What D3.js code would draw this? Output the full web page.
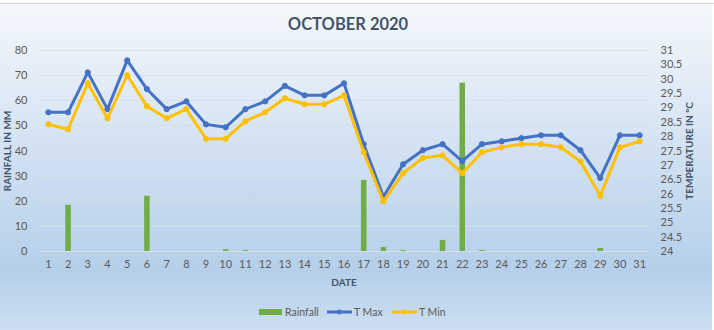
<!DOCTYPE html>
<html>
<head>
<meta charset="utf-8">
<script src="https://cdn.jsdelivr.net/npm/d3@7"></script>
<style>
  body { margin: 0; background: #fff; }
  svg text { font-family: Lato, "Noto Sans", sans-serif; }
</style>
</head>
<body>
<div id="chart"></div>
<script>
// chart data
var days = d3.range(1, 32);
var rainfall = [0, 18.4, 0, 0, 0, 22, 0, 0, 0, 0.7, 0.4, 0, 0, 0, 0, 0,
                28.3, 1.6, 0.4, 0, 4.4, 67, 0.4, 0, 0, 0, 0, 0, 1.2, 0, 0];
var tMax = [28.83, 28.83, 30.22, 28.94, 30.64, 29.64, 28.94, 29.21, 28.41, 28.31,
            28.94, 29.21, 29.75, 29.42, 29.42, 29.84, 27.72, 25.89, 27.02, 27.51,
            27.72, 27.13, 27.72, 27.82, 27.93, 28.03, 28.03, 27.51, 26.54, 28.03, 28.03];
var tMin = [28.41, 28.24, 29.84, 28.62, 30.12, 29.04, 28.62, 28.94, 27.91, 27.91,
            28.52, 28.83, 29.32, 29.11, 29.11, 29.42, 27.44, 25.73, 26.71, 27.24,
            27.33, 26.71, 27.44, 27.61, 27.72, 27.72, 27.61, 27.12, 25.92, 27.61, 27.82];
var rainTicks = d3.range(0, 81, 10);
var tempTicks = d3.range(24, 31.01, 0.5);

var W = 714, H = 330;
var plot = {left: 38.5, right: 649.5, top: 50, bottom: 251};

var svg = d3.select("#chart").append("svg")
    .attr("width", W)
    .attr("height", H);

// background gradient like the excel chart area
var grad = svg.append("defs").append("linearGradient")
    .attr("id", "bg").attr("x1", 0).attr("y1", 0).attr("x2", 0).attr("y2", 1);
grad.append("stop").attr("offset", "0%").attr("stop-color", "#f5f8fc");
grad.append("stop").attr("offset", "82%").attr("stop-color", "#b5cfea");
grad.append("stop").attr("offset", "100%").attr("stop-color", "#cddff1");

svg.append("rect").attr("width", W).attr("height", H).attr("fill", "#fff");
svg.append("rect")
    .attr("x", 0).attr("y", 4)
    .attr("width", 712).attr("height", H - 4)
    .attr("fill", "url(#bg)");
svg.append("line")
    .attr("x1", 0).attr("x2", W).attr("y1", 3.5).attr("y2", 3.5)
    .attr("stroke", "#d4d4d4");

//scales
var x = d3.scaleBand().domain(days).range([plot.left, plot.right]).paddingInner(0.72).paddingOuter(0.36);
var cx = function(d) { return x(d) + x.bandwidth() / 2; };
var yRain = d3.scaleLinear().domain([0, 80]).range([plot.bottom, plot.top]);
var yTemp = d3.scaleLinear().domain([24, 31]).range([plot.bottom, plot.top]);

//gridlines
svg.append("g")
    .selectAll("line")
    .data(rainTicks)
    .join("line")
    .attr("x1", plot.left).attr("x2", plot.right)
    .attr("y1", d => Math.round(yRain(d)) + 0.5)
    .attr("y2", d => Math.round(yRain(d)) + 0.5)
    .attr("stroke", "#d7dfe9")
    .attr("stroke-width", 1);

//axes
var leftAxis = svg.append("g")
    .attr("transform", "translate(" + plot.left + ",0)")
    .call(d3.axisLeft(yRain).tickValues(rainTicks).tickSize(0).tickPadding(11));
var rightAxis = svg.append("g")
    .attr("transform", "translate(" + plot.right + ",0)")
    .call(d3.axisRight(yTemp).tickValues(tempTicks).tickSize(0).tickPadding(11)
        .tickFormat(d3.format("~g")));
var bottomAxis = svg.append("g")
    .attr("transform", "translate(0," + plot.bottom + ")")
    .call(d3.axisBottom(x).tickSize(0).tickPadding(9));

[leftAxis, rightAxis, bottomAxis].forEach(function(a) {
    a.select(".domain").remove();
    a.selectAll("text")
        .attr("fill", "#595959")
        .style("font-size", "11px");
});

//rainfall bars
svg.append("g")
    .selectAll("rect")
    .data(days)
    .join("rect")
    .attr("x", d => x(d))
    .attr("width", x.bandwidth())
    .attr("y", (d, i) => yRain(rainfall[i]))
    .attr("height", (d, i) => plot.bottom - yRain(rainfall[i]))
    .attr("fill", "#70ad47");

//temperature lines
function drawLine(values, color) {
    var line = d3.line()
        .x(d => cx(d))
        .y((d, i) => yTemp(values[i]));
    svg.append("path")
        .datum(days)
        .attr("d", line)
        .attr("fill", "none")
        .attr("stroke", color)
        .attr("stroke-width", 3)
        .attr("stroke-linejoin", "round");
    svg.append("g")
        .selectAll("circle")
        .data(days)
        .join("circle")
        .attr("cx", d => cx(d))
        .attr("cy", (d, i) => yTemp(values[i]))
        .attr("r", 2.6)
        .attr("fill", color)
        .attr("stroke", color);
}
drawLine(tMax, "#4472c4");
drawLine(tMin, "#ffc000");

//title and axis titles
svg.append("text")
    .attr("x", 348).attr("y", 30)
    .attr("text-anchor", "middle")
    .attr("fill", "#44546a")
    .style("font-size", "16.5px")
    .style("font-weight", "bold")
    .text("OCTOBER 2020");

svg.append("text")
    .attr("transform", "translate(11,151) rotate(-90)")
    .attr("text-anchor", "middle")
    .attr("fill", "#44546a")
    .style("font-size", "10px")
    .style("font-weight", "bold")
    .text("RAINFALL IN MM");

svg.append("text")
    .attr("transform", "translate(693,151) rotate(-90)")
    .attr("text-anchor", "middle")
    .attr("fill", "#44546a")
    .style("font-size", "10px")
    .style("font-weight", "bold")
    .text("TEMPERATURE IN ºC");

svg.append("text")
    .attr("x", 344).attr("y", 286)
    .attr("text-anchor", "middle")
    .attr("fill", "#44546a")
    .style("font-size", "10px")
    .style("font-weight", "bold")
    .text("DATE");

//legend
var legend = svg.append("g").attr("transform", "translate(0,312)");
legend.append("rect")
    .attr("x", 259).attr("y", -3).attr("width", 23).attr("height", 6)
    .attr("fill", "#70ad47");
legend.append("text").attr("x", 285).attr("y", 4).text("Rainfall");

[{x: 327, color: "#4472c4", label: "T Max"}, {x: 392, color: "#ffc000", label: "T Min"}]
    .forEach(function(l) {
        legend.append("line")
            .attr("x1", l.x).attr("x2", l.x + 25)
            .attr("y1", 0).attr("y2", 0)
            .attr("stroke", l.color).attr("stroke-width", 3);
        legend.append("circle")
            .attr("cx", l.x + 12.5).attr("cy", 0).attr("r", 2.4)
            .attr("fill", l.color);
        legend.append("text").attr("x", l.x + 27).attr("y", 4).text(l.label);
    });
legend.selectAll("text")
    .attr("fill", "#595959")
    .style("font-size", "10.5px");
</script>
</body>
</html>
